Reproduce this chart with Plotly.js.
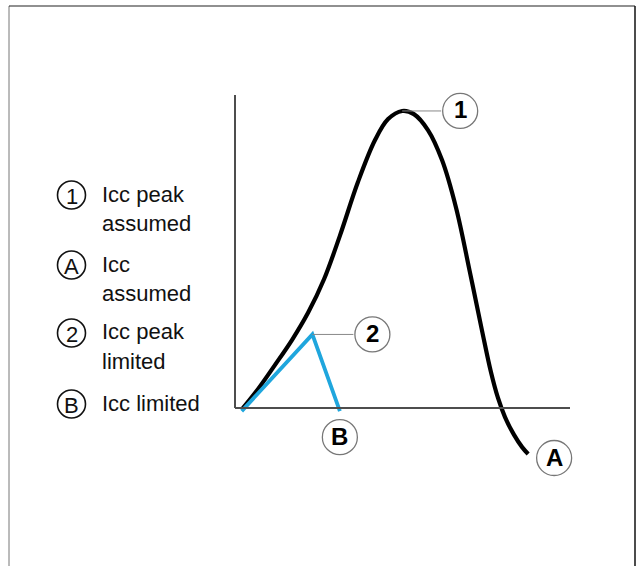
<!DOCTYPE html>
<html>
<head>
<meta charset="utf-8">
<script src="https://cdn.plot.ly/plotly-3.0.1.min.js"></script>
<style>html,body{margin:0;padding:0;background:#fff;}#chart{width:638px;height:566px;}</style>
</head>
<body>
<div id="chart"></div>
<script>
// ---- data (time units along x, current units along y) ----
const assumedTime = [0.2, 0.69, 1.19, 1.70, 2.18, 2.66, 3.13, 3.67, 4.18, 4.57, 4.99, 5.34, 5.76, 6.18, 6.60, 7.01, 7.37, 7.64, 7.85, 8.06, 8.33, 8.57, 8.75];
const assumedCurrent = [-0.05, 0.61, 1.37, 2.17, 3.04, 4.12, 5.50, 7.22, 8.56, 9.23, 9.49, 9.39, 8.88, 7.92, 6.39, 4.35, 2.49, 1.15, 0.32, -0.29, -0.86, -1.25, -1.47];
const limitedTime = [0.2, 2.31, 3.13];
const limitedCurrent = [-0.1, 2.35, -0.1];
const axisLength = 10;
const legendSymbols = ['1', 'A', '2', 'B'];
const legendLines = [['Icc peak', 'assumed'], ['Icc', 'assumed'], ['Icc peak', 'limited'], ['Icc limited']];
const curveLabels = ['1', 'A', '2', 'B'];

// ---- layout helpers ----
const W = 638, H = 566;
const pxX = p => p / W;
const pxY = p => 1 - p / H;
// data scale: x=0 at px 235, 33.5 px/unit; y=0 at px 408, 31.3 px/unit
const kx = 33.5, ky = 31.3, ox = 235, oy = 408;
const xRange = [-ox / kx, (W - ox) / kx];
const yRange = [-(H - oy) / ky, oy / ky];

const traces = [
  {x: assumedTime, y: assumedCurrent, mode: 'lines', line: {color: '#000', width: 4.2, shape: 'spline', smoothing: 1}, hoverinfo: 'skip'},
  {x: limitedTime, y: limitedCurrent, mode: 'lines', line: {color: '#1fa6dd', width: 3.8}, hoverinfo: 'skip'}
];

const shapes = [];
const annotations = [];

// frame
shapes.push({type: 'line', xref: 'paper', yref: 'paper', x0: pxX(9), x1: pxX(9), y0: pxY(6), y1: pxY(566), line: {color: '#777', width: 1}});
shapes.push({type: 'line', xref: 'paper', yref: 'paper', x0: pxX(9), x1: pxX(635), y0: pxY(6), y1: pxY(6), line: {color: '#222', width: 1.2}});
shapes.push({type: 'line', xref: 'paper', yref: 'paper', x0: pxX(635), x1: pxX(635), y0: pxY(6), y1: pxY(566), line: {color: '#111', width: 1.5}});

// axes
shapes.push({type: 'line', xref: 'x', yref: 'y', x0: 0, x1: 0, y0: 0, y1: axisLength, line: {color: '#4d4d4d', width: 2}});
shapes.push({type: 'line', xref: 'x', yref: 'y', x0: 0, x1: axisLength, y0: 0, y1: 0, line: {color: '#4d4d4d', width: 2}});

// curve labels: peak markers with connectors, end markers
function peakIndex(arr) { let m = 0; arr.forEach((v, i) => { if (v > arr[m]) m = i; }); return m; }
const iA = peakIndex(assumedCurrent), iL = peakIndex(limitedCurrent);
const labelSpecs = [
  {t: curveLabels[0], x: assumedTime[iA], y: assumedCurrent[iA], dx: 58, dy: 0, conn: true},
  {t: curveLabels[1], x: assumedTime[assumedTime.length - 1], y: assumedCurrent[assumedCurrent.length - 1], dx: 26, dy: 4, conn: false},
  {t: curveLabels[2], x: limitedTime[iL], y: limitedCurrent[iL], dx: 60, dy: 0, conn: true},
  {t: curveLabels[3], x: limitedTime[limitedTime.length - 1], y: limitedCurrent[limitedCurrent.length - 1], dx: 0, dy: 26, conn: false}
];
const R = 17.5;
labelSpecs.forEach(s => {
  shapes.push({type: 'circle', xref: 'x', yref: 'y', xsizemode: 'pixel', ysizemode: 'pixel', xanchor: s.x, yanchor: s.y,
    x0: s.dx - R, x1: s.dx + R, y0: -s.dy - R, y1: -s.dy + R, line: {color: '#777', width: 1.3}, fillcolor: 'rgba(0,0,0,0)'});
  if (s.conn) {
    annotations.push({x: s.x, y: s.y, xref: 'x', yref: 'y', ax: s.dx - R, ay: 0, showarrow: true, arrowhead: 0, arrowwidth: 1, arrowcolor: '#888', text: '', standoff: 0, startstandoff: 0});
  }
  annotations.push({x: s.x, y: s.y, xref: 'x', yref: 'y', xshift: s.dx, yshift: -s.dy + 1, showarrow: false, text: '<b>' + s.t + '</b>',
    font: {family: 'Liberation Sans, Arial, sans-serif', size: 24, color: '#000'}, xanchor: 'center', yanchor: 'middle'});
});

// legend
const legendCenters = [195, 265, 333, 404];
const lineGap = 29;
legendSymbols.forEach((sym, i) => {
  const cy = legendCenters[i];
  shapes.push({type: 'circle', xref: 'paper', yref: 'paper', x0: pxX(57.5), x1: pxX(85.5), y0: pxY(cy + 14), y1: pxY(cy - 14), line: {color: '#111', width: 1.6}});
  annotations.push({x: pxX(71.5), y: pxY(cy + 1), xref: 'paper', yref: 'paper', showarrow: false, text: sym,
    font: {family: 'Liberation Sans, Arial, sans-serif', size: 22, color: '#111'}, xanchor: 'center', yanchor: 'middle'});
  legendLines[i].forEach((ln, j) => {
    annotations.push({x: pxX(100), y: pxY(cy - 1 + j * lineGap), xref: 'paper', yref: 'paper', showarrow: false, text: ln,
      font: {family: 'Liberation Sans, Arial, sans-serif', size: 22, color: '#111'}, xanchor: 'left', yanchor: 'middle'});
  });
});

const layout = {
  width: W, height: H,
  margin: {l: 0, r: 0, t: 0, b: 0, pad: 0},
  paper_bgcolor: '#fff', plot_bgcolor: '#fff',
  showlegend: false,
  xaxis: {range: xRange, visible: false, fixedrange: true},
  yaxis: {range: yRange, visible: false, fixedrange: true},
  shapes: shapes,
  annotations: annotations
};

Plotly.newPlot('chart', traces, layout, {staticPlot: true, displayModeBar: false});
</script>
</body>
</html>
